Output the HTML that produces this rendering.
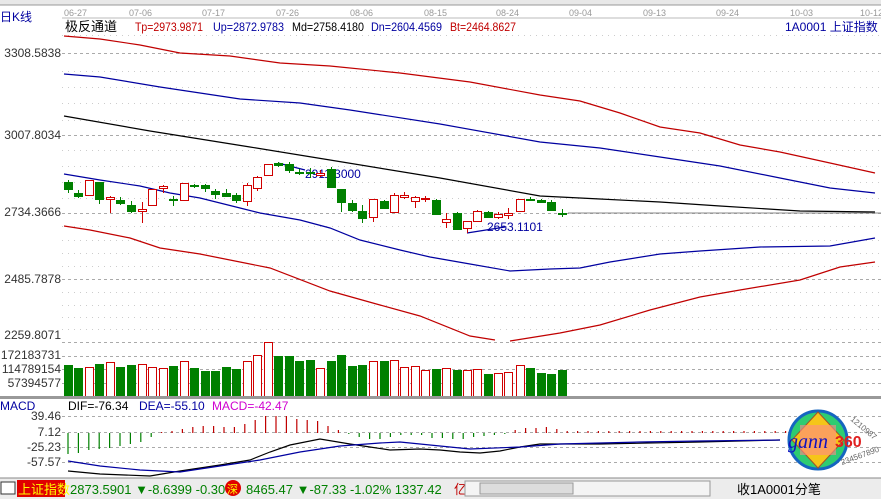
<!DOCTYPE html>
<html><head><meta charset="utf-8"><style>
body{margin:0;background:#fff;width:881px;height:499px;overflow:hidden;font-family:"Liberation Sans","Noto Sans CJK SC",sans-serif}
svg{display:block}
text{font-family:"Liberation Sans","Noto Sans CJK SC",sans-serif;font-size:12px}
</style></head><body>
<svg id="s" width="881" height="499" viewBox="0 0 881 499" xmlns="http://www.w3.org/2000/svg">
<rect x="0" y="0" width="881" height="5" fill="#e8e8e8"/>
<line x1="0" y1="5" x2="881" y2="5" stroke="#999"/>
<line x1="62" y1="18" x2="881" y2="18" stroke="#bbb"/>
<g fill="#999"><text x="64" y="16" style="font-size:9px">06-27</text><text x="129" y="16" style="font-size:9px">07-06</text><text x="202" y="16" style="font-size:9px">07-17</text><text x="276" y="16" style="font-size:9px">07-26</text><text x="350" y="16" style="font-size:9px">08-06</text><text x="424" y="16" style="font-size:9px">08-15</text><text x="496" y="16" style="font-size:9px">08-24</text><text x="569" y="16" style="font-size:9px">09-04</text><text x="643" y="16" style="font-size:9px">09-13</text><text x="716" y="16" style="font-size:9px">09-24</text><text x="790" y="16" style="font-size:9px">10-03</text><text x="860" y="16" style="font-size:9px">10-12</text></g>
<text x="0" y="21" fill="#0000a0">日K线</text>
<text x="65" y="31" fill="#000" style="font-size:13px">极反通道</text>
<text x="135" y="31" fill="#c00000" textLength="68" lengthAdjust="spacingAndGlyphs">Tp=2973.9871</text>
<text x="213" y="31" fill="#0000a0" textLength="71" lengthAdjust="spacingAndGlyphs">Up=2872.9783</text>
<text x="292" y="31" fill="#000" textLength="72" lengthAdjust="spacingAndGlyphs">Md=2758.4180</text>
<text x="371" y="31" fill="#0000a0" textLength="71" lengthAdjust="spacingAndGlyphs">Dn=2604.4569</text>
<text x="450" y="31" fill="#c00000" textLength="66" lengthAdjust="spacingAndGlyphs">Bt=2464.8627</text>
<text x="785" y="31" fill="#0000a0">1A0001  上证指数</text>
<g id="grid"></g>
<g fill="#333" text-anchor="end"><text x="61" y="57">3308.5838</text><text x="61" y="139">3007.8034</text><text x="61" y="216">2734.3666</text><text x="61" y="283">2485.7878</text><text x="61" y="339">2259.8071</text><text x="61" y="359">172183731</text><text x="61" y="373">114789154</text><text x="61" y="387">57394577</text></g>
<g fill="none" stroke-width="1.2">
<polyline stroke="#c00000" points="64,36 100,39 140,45 180,53 230,56 280,63 330,66 400,73 470,82 540,95 580,101 620,113 660,127 700,133 740,145 780,152 830,163 875,173"/>
<polyline stroke="#0000a0" points="64,74 100,77 160,87 240,99 300,103 350,110 440,124 540,142 600,148 660,157 720,166 780,178 830,188 875,193"/>
<polyline stroke="#000" points="64,116 150,131 250,147 330,160 440,178 540,196 600,199 660,202 720,206 800,211 875,212"/>
<polyline stroke="#0000a0" points="64,174 100,180 140,186 170,193 200,198 240,208 260,213 300,220 330,228 360,240 400,250 430,257 470,264 510,271 550,269 580,268 610,262 660,254 700,251 760,247 830,246 875,238"/>
<polyline stroke="#c00000" points="64,226 90,230 130,238 160,248 200,254 240,262 270,268 330,291 380,305 420,316 470,336 495,340"/>
<polyline stroke="#c00000" points="510,341 560,333 600,325 650,310 700,297 740,290 800,280 840,267 875,262"/>
<line x1="568" y1="213" x2="881" y2="213" stroke="#888" stroke-width="1"/>
<polyline stroke="#0000a0" points="278,163 305,170"/>
<polyline stroke="#0000a0" points="467,233 505,227"/>
</g>
<text x="305" y="178" fill="#0000a0">2911.3000</text>
<text x="487" y="231" fill="#0000a0">2653.1101</text>
<g id="c"></g>
<rect x="0" y="396" width="881" height="3" fill="#999"/>
<text x="0" y="410" fill="#0000a0">MACD</text>
<text x="68" y="410" fill="#000">DIF=-76.34</text>
<text x="139" y="410" fill="#0000a0">DEA=-55.10</text>
<text x="212" y="410" fill="#d000d0">MACD=-42.47</text>
<g fill="#333" text-anchor="end"><text x="61" y="420">39.46</text><text x="61" y="436">7.12</text><text x="61" y="451">-25.23</text><text x="61" y="466">-57.57</text></g>
<g id="m"></g>
<g fill="none" stroke-width="1.2">
<polyline stroke="#000" points="68,471 100,474 150,476 180,471 220,465 250,460 270,452 290,445 320,439 350,444 370,447 390,450 420,449 440,450 460,452 480,453 500,451 520,447 540,444 600,444 700,442 780,440"/>
<polyline stroke="#0000a0" points="68,461 100,466 140,470 180,472 220,466 260,460 300,452 340,446 380,443 400,442 440,446 470,449 520,447 560,444 640,442 700,441 780,440"/>
</g>
<circle cx="818" cy="440" r="29" fill="#2ecc71" stroke="#1565c0" stroke-width="3"/>
<polygon points="818,412 844,440 818,468 792,440" fill="#f5c518" stroke="#a0522d"/>
<polygon points="800,425 836,425 836,455 800,455" fill="#f88" opacity="0.6"/>
<text x="788" y="448" fill="#1010c0" style="font-size:20px;font-style:italic;font-family:'Liberation Serif',serif">gann</text>
<text x="835" y="447" fill="#e02020" style="font-size:16px;font-weight:bold">360</text>
<text x="850" y="420" fill="#666" style="font-size:8px" transform="rotate(40 850 420)">1210987</text>
<text x="842" y="465" fill="#666" style="font-size:8px" transform="rotate(-20 842 465)">234567890</text>
<rect x="0" y="478" width="881" height="21" fill="#ececec"/>
<line x1="0" y1="478" x2="881" y2="478" stroke="#888"/>
<rect x="1" y="482" width="14" height="12" fill="#fff" stroke="#333"/>
<rect x="17" y="480" width="48" height="17" fill="#e00000"/>
<text x="18" y="494" fill="#ffff00" style="font-size:13px">上证指数</text>
<text x="70" y="494" fill="#008000" style="font-size:13px">2873.5901 ▼-8.6399 -0.30%</text>
<circle cx="233" cy="488" r="8" fill="#e00000"/><text x="227" y="493" fill="#ff0" style="font-size:11px">深</text>
<text x="246" y="494" fill="#008000" style="font-size:13px">8465.47 ▼-87.33 -1.02% 1337.42</text>
<text x="454" y="494" fill="#c00000" style="font-size:13px">亿</text>
<rect x="465" y="481" width="245" height="15" fill="#f4f4f4" stroke="#999"/>
<rect x="480" y="483" width="93" height="11" fill="#ddd" stroke="#999"/>
<text x="737" y="494" fill="#000" style="font-size:13px">收1A0001分笔</text>
</svg>
<script>
var NS="http://www.w3.org/2000/svg";
function el(p,t,a){var e=document.createElementNS(NS,t);for(var k in a)e.setAttribute(k,a[k]);p.appendChild(e);return e;}
var g=document.getElementById('grid');
[53,135,213,279,342,356,369,383,416,432,447,462].forEach(function(y){el(g,'line',{x1:62,x2:881,y1:y+.5,y2:y+.5,stroke:'#aaa','stroke-dasharray':'3,3'});});
[35,71,87,103,120,150,166,182,198,226,240,253,266,292,305,317,329].forEach(function(y){el(g,'line',{x1:62,x2:881,y1:y+.5,y2:y+.5,stroke:'#ccc','stroke-dasharray':'1,5'});});
var C=[[68,182,189,180,193,'g'],[78,193,196,190,198,'g'],[89,180,195,180,195,'r'],[99,182,199,182,204,'g'],[110,197,199,196,213,'r'],[120,200,203,197,205,'g'],[131,205,211,201,213,'g'],[142,209,211,202,223,'r'],[152,189,205,189,205,'r'],[163,186,188,185,193,'r'],[173,199,200,196,206,'g'],[184,183,200,183,200,'r'],[194,185,186,184,188,'g'],[205,185,188,184,192,'g'],[215,191,194,189,199,'g'],[226,193,196,189,197,'g'],[236,195,200,193,203,'g'],[247,185,201,183,206,'r'],[257,177,188,176,191,'r'],[268,164,175,164,175,'r'],[278,163,165,162,167,'g'],[289,164,170,162,173,'g'],[299,172,173,169,175,'g'],[310,172,173,168,178,'g'],[320,173,175,170,177,'r'],[331,169,187,167,187,'g'],[341,189,202,189,212,'g'],[352,203,210,200,212,'g'],[362,211,218,205,223,'g'],[373,199,217,199,222,'r'],[384,201,208,200,209,'g'],[394,195,212,193,212,'r'],[404,195,197,192,199,'r'],[415,197,201,196,208,'r'],[425,198,199,196,202,'r'],[436,200,214,199,215,'g'],[446,219,222,213,228,'r'],[457,213,229,212,230,'g'],[467,221,228,221,233,'r'],[477,211,221,210,221,'r'],[488,212,217,211,218,'g'],[498,214,217,212,219,'r'],[508,213,215,208,219,'r'],[520,199,211,199,211,'r'],[530,199,200,197,201,'g'],[541,200,202,199,203,'g'],[551,202,210,200,211,'g'],[562,213,214,209,217,'g']];
var V=[365,368,367,364,362,367,365,364,367,368,366,361,368,371,371,367,369,361,355,342,356,356,361,360,368,361,355,366,365,361,361,360,367,366,370,369,368,370,370,369,374,373,372,365,368,373,374,370];
var c=document.getElementById('c');
C.forEach(function(d,i){var col=d[5]=='r'?'#d00000':'#008000';var x=d[0];
el(c,'line',{x1:x+.5,x2:x+.5,y1:d[3],y2:d[4],stroke:col});
var h=Math.max(1,d[2]-d[1]);
if(d[5]=='r')el(c,'rect',{x:x-3.5,y:d[1]+.5,width:8,height:h,fill:'#fff',stroke:col});
else el(c,'rect',{x:x-4,y:d[1],width:9,height:h+1,fill:col});
var vt=V[i];
if(d[5]=='r')el(c,'rect',{x:x-3.5,y:vt+.5,width:8,height:396-vt,fill:'#fff',stroke:col});
else el(c,'rect',{x:x-4,y:vt,width:9,height:396-vt,fill:col});
});
var m=document.getElementById('m');
var H=[-21,-20,-17,-16,-15,-13,-11,-9,-4,1,2,4,6,7,7,6,6,9,13,17,17,17,14,13,12,7,3,-1,-4,-6,-6,-4,-2,-2,-2,-5,-5,-6,-6,-4,-3,-2,-1,3,5,5,6,4];
for(var i=0;i<70;i++){var x=68+i*10.4;var v=i<H.length?H[i]:2;var col=v>=0?'#c00000':'#008000';
el(m,'line',{x1:x,x2:x,y1:433,y2:433-v,stroke:col,'stroke-width':1.2});}
</script>
</body></html>
